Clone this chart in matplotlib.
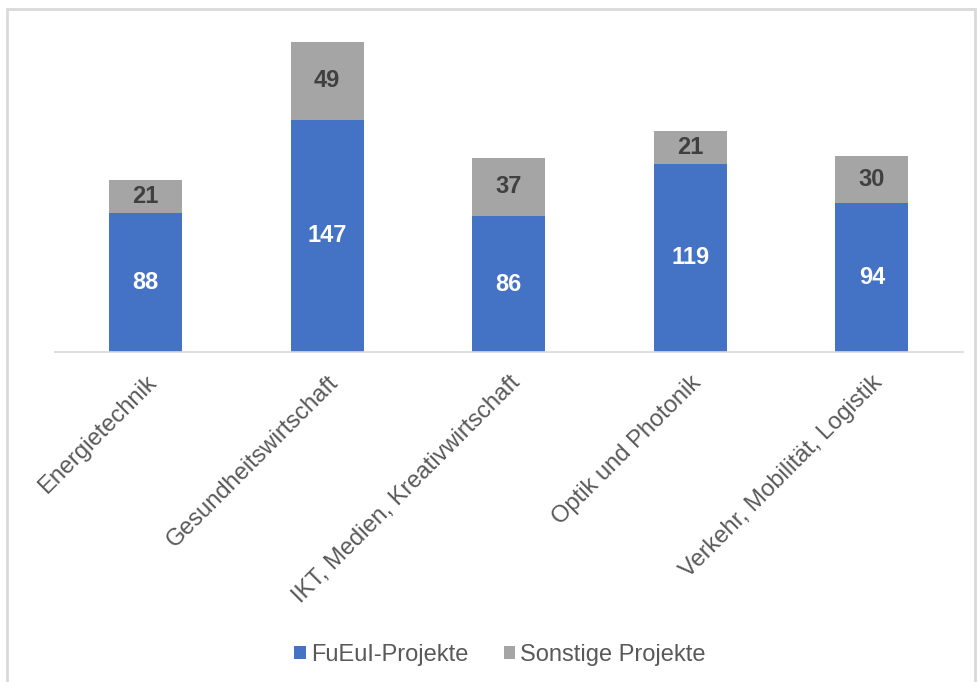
import matplotlib.pyplot as plt
from matplotlib.patches import Rectangle
import numpy as np

plt.rcParams['font.family'] = ['Liberation Sans', 'DejaVu Sans']

categories = ["Energietechnik", "Gesundheitswirtschaft", "IKT, Medien, Kreativwirtschaft",
              "Optik und Photonik", "Verkehr, Mobilität, Logistik"]
fueui = [88, 147, 86, 119, 94]
sonstige = [21, 49, 37, 21, 30]

BLUE = '#4472C4'
GRAY = '#A5A5A5'

fig = plt.figure(figsize=(9.78, 6.82), dpi=100)
fig.patches.append(Rectangle((7/978, -0.1), 968/978, 1.1 - 9/682, transform=fig.transFigure,
                             fill=False, edgecolor='#D9D9D9', linewidth=2))
ax = fig.add_axes([55/978, 1 - 352/682, 907.5/978, 332/682])

x = np.arange(len(categories))
b1 = ax.bar(x, fueui, width=0.4, color=BLUE, label='FuEuI-Projekte')
b2 = ax.bar(x, sonstige, width=0.4, bottom=fueui, color=GRAY, label='Sonstige Projekte')

for i in range(len(x)):
    ax.text(x[i], fueui[i] / 2, str(fueui[i]), ha='center', va='center',
            color='white', fontsize=17, fontweight='bold')
    ax.text(x[i], fueui[i] + sonstige[i] / 2, str(sonstige[i]), ha='center', va='center',
            color='#404040', fontsize=17, fontweight='bold')

ax.set_xlim(-0.5, len(categories) - 0.5)
ax.set_ylim(0, 210)
ax.set_yticks([])
for s in ['top', 'right', 'left']:
    ax.spines[s].set_visible(False)
ax.spines['bottom'].set_color('#D9D9D9')
ax.spines['bottom'].set_linewidth(1.2)

ax.set_xticks(x)
ax.set_xticklabels(categories, rotation=45, ha='right', rotation_mode='anchor',
                   fontsize=17, color='#595959')
ax.tick_params(axis='x', length=0, pad=14)

fig.legend(handles=[b1, b2], loc='center', bbox_to_anchor=(500/978, 1 - 655/682), ncol=2,
           frameon=False, fontsize=17, handlelength=0.5, handleheight=0.5,
           handletextpad=0.2, columnspacing=1.5, labelcolor='#595959')

fig.savefig('out.png', dpi=100)
